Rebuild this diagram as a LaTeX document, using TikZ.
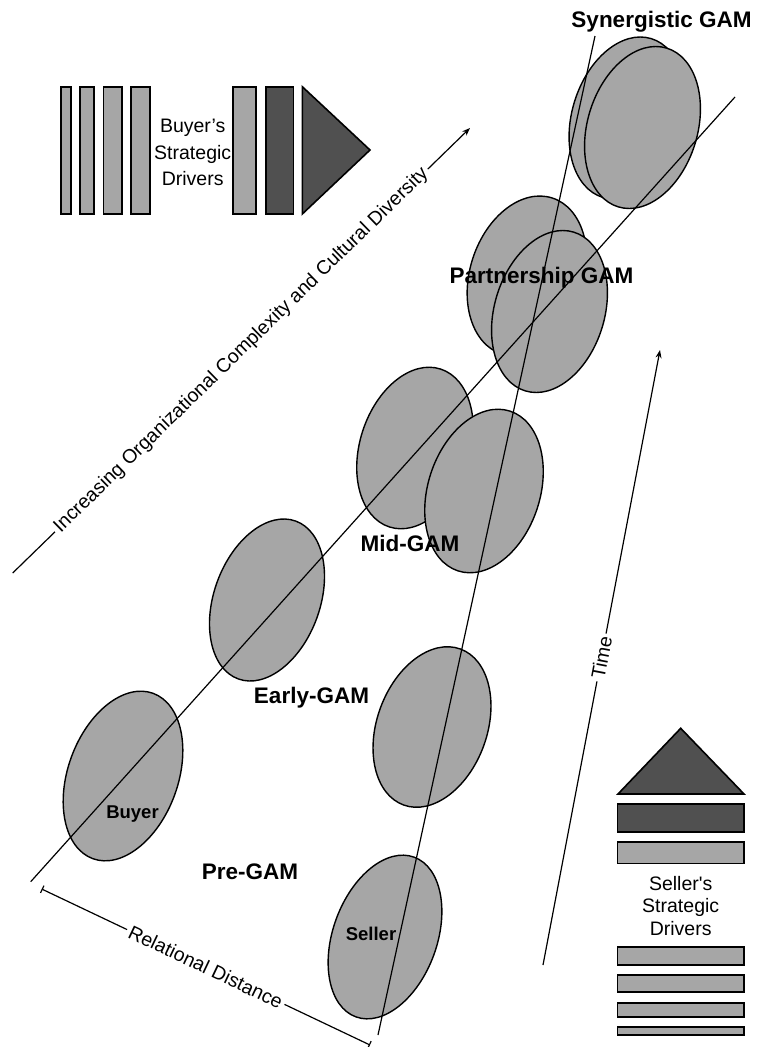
\documentclass[tikz,border=0pt]{standalone}
\usepackage{fontspec}
\setmainfont{Liberation Sans}
\usetikzlibrary{shapes.geometric,arrows.meta}
\definecolor{lightfill}{HTML}{A6A6A6}
\definecolor{darkfill}{HTML}{505050}
\begin{document}
\begin{tikzpicture}[x=1pt,y=-1pt,
  disc/.style={ellipse, draw=black, line width=1.4pt, fill=lightfill, inner sep=0pt},
  bar/.style={draw=black, line width=1.6pt, fill=lightfill},
  darkbar/.style={bar, fill=darkfill},
  stage/.style={font=\fontsize{22.5}{27}\selectfont\bfseries, inner sep=0pt, anchor=base},
  party/.style={font=\fontsize{18.5}{22}\selectfont\bfseries, inner sep=0pt, anchor=base},
  caption/.style={font=\fontsize{19.5}{23}\selectfont},
  axis/.style={line width=1.2pt},
  gap/.style={sloped, fill=white, inner sep=3pt, caption},
]
\useasboundingbox (0,0) rectangle (756,1047);

% ---- buyer's strategic drivers (top left) ----
\draw[bar] (61,86.7) rectangle (70.7,214);
\draw[bar] (80,86.7) rectangle (94,214);
\draw[bar] (103.3,86.7) rectangle (122,214);
\draw[bar] (131,86.7) rectangle (150,214);
\draw[bar] (232.7,86.7) rectangle (256,214);
\draw[darkbar] (265.7,86.7) rectangle (293.3,214);
\draw[darkbar] (302.3,86.7) -- (370,150) -- (302.3,214) -- cycle;
\node[caption, align=center, font=\fontsize{19.5}{26.5}\selectfont, inner sep=0pt]
  (buyerDrivers) at (192.7,152.5) {Buyer’s\\Strategic\\Drivers};

% ---- seller's strategic drivers (bottom right) ----
\draw[darkbar] (618,794) -- (680.7,728.3) -- (744,794) -- cycle;
\draw[darkbar] (617.5,804) rectangle (744,831.7);
\draw[bar] (617.5,841.7) rectangle (744,863.3);
\node[caption, align=center, font=\fontsize{19.5}{22.5}\selectfont, inner sep=0pt]
  (sellerDrivers) at (680.7,906) {Seller\textquotesingle s\\Strategic\\Drivers};
\draw[bar] (617.5,946.7) rectangle (744,965);
\draw[bar] (617.5,975) rectangle (744,991.7);
\draw[bar] (617.5,1002.7) rectangle (744,1016.7);
\draw[bar] (617.5,1026.7) rectangle (744,1035);

% ---- buyer / seller organisations at each stage ----
\node[disc, minimum width=110pt, minimum height=176pt, rotate=-20] (buyerPre)   at (123,776) {};
\node[disc, minimum width=104pt, minimum height=170pt, rotate=-20] (sellerPre)  at (385,937) {};
\node[disc, minimum width=106pt, minimum height=168pt, rotate=-20] (buyerEarly) at (267,600) {};
\node[disc, minimum width=110pt, minimum height=166pt, rotate=-20] (sellerEarly) at (432,727) {};
\node[disc, minimum width=110pt, minimum height=166pt, rotate=-18] (buyerMid)   at (415,448) {};
\node[disc, minimum width=112pt, minimum height=168pt, rotate=-18] (sellerMid)  at (484,491) {};
\node[disc, minimum width=114pt, minimum height=164pt, rotate=-18] (buyerPart)  at (527,276) {};
\node[disc, minimum width=110pt, minimum height=166pt, rotate=-17] (sellerPart) at (549.5,311.5) {};
\node[disc, minimum width=110pt, minimum height=166pt, rotate=-17] (buyerSyn)   at (627,118) {};
\node[disc, minimum width=110pt, minimum height=166pt, rotate=-17] (sellerSyn)  at (642.5,127.5) {};

% ---- buyer and seller trajectories ----
\coordinate (buyerFrom) at (30.7,881.7);
\coordinate (buyerTo) at (735,97);
\coordinate (sellerFrom) at (378,1035);
\coordinate (sellerTo) at (595,36);
\draw[axis] (buyerFrom) -- (buyerTo);
\draw[axis] (sellerFrom) -- (sellerTo);

% ---- axes with labels ----
\coordinate (cxFrom) at (12.7,573);
\coordinate (cxTo) at (470,128);
\draw[axis, -{Stealth[length=8pt,width=6pt]}] (cxFrom) --
  node[gap] (cxLabel) {Increasing Organizational Complexity and Cultural Diversity} (cxTo);

\coordinate (timeFrom) at (543,965);
\coordinate (timeTo) at (660,350);
\draw[axis, -{Stealth[length=8pt,width=6pt]}] (timeFrom) --
  node[gap] (timeLabel) {Time} (timeTo);

\coordinate (distFrom) at (41.7,889);
\coordinate (distTo) at (370,1045);
\draw[axis, {Bar[width=8pt]}-{Bar[width=8pt]}] (distFrom) --
  node[gap] (distLabel) {Relational Distance} (distTo);

% ---- stage and party labels ----
\node[stage] (synLbl)   at (661.5,27)  {Synergistic GAM};
\node[stage] (partLbl)  at (541.5,283) {Partnership GAM};
\node[stage] (midLbl)   at (410,551)   {Mid-GAM};
\node[stage] (earlyLbl) at (311.5,703) {Early-GAM};
\node[stage] (preLbl)   at (250,879)   {Pre-GAM};
\node[party] (buyerLbl)  at (132.5,818) {Buyer};
\node[party] (sellerLbl) at (371,940)   {Seller};
\end{tikzpicture}
\end{document}
